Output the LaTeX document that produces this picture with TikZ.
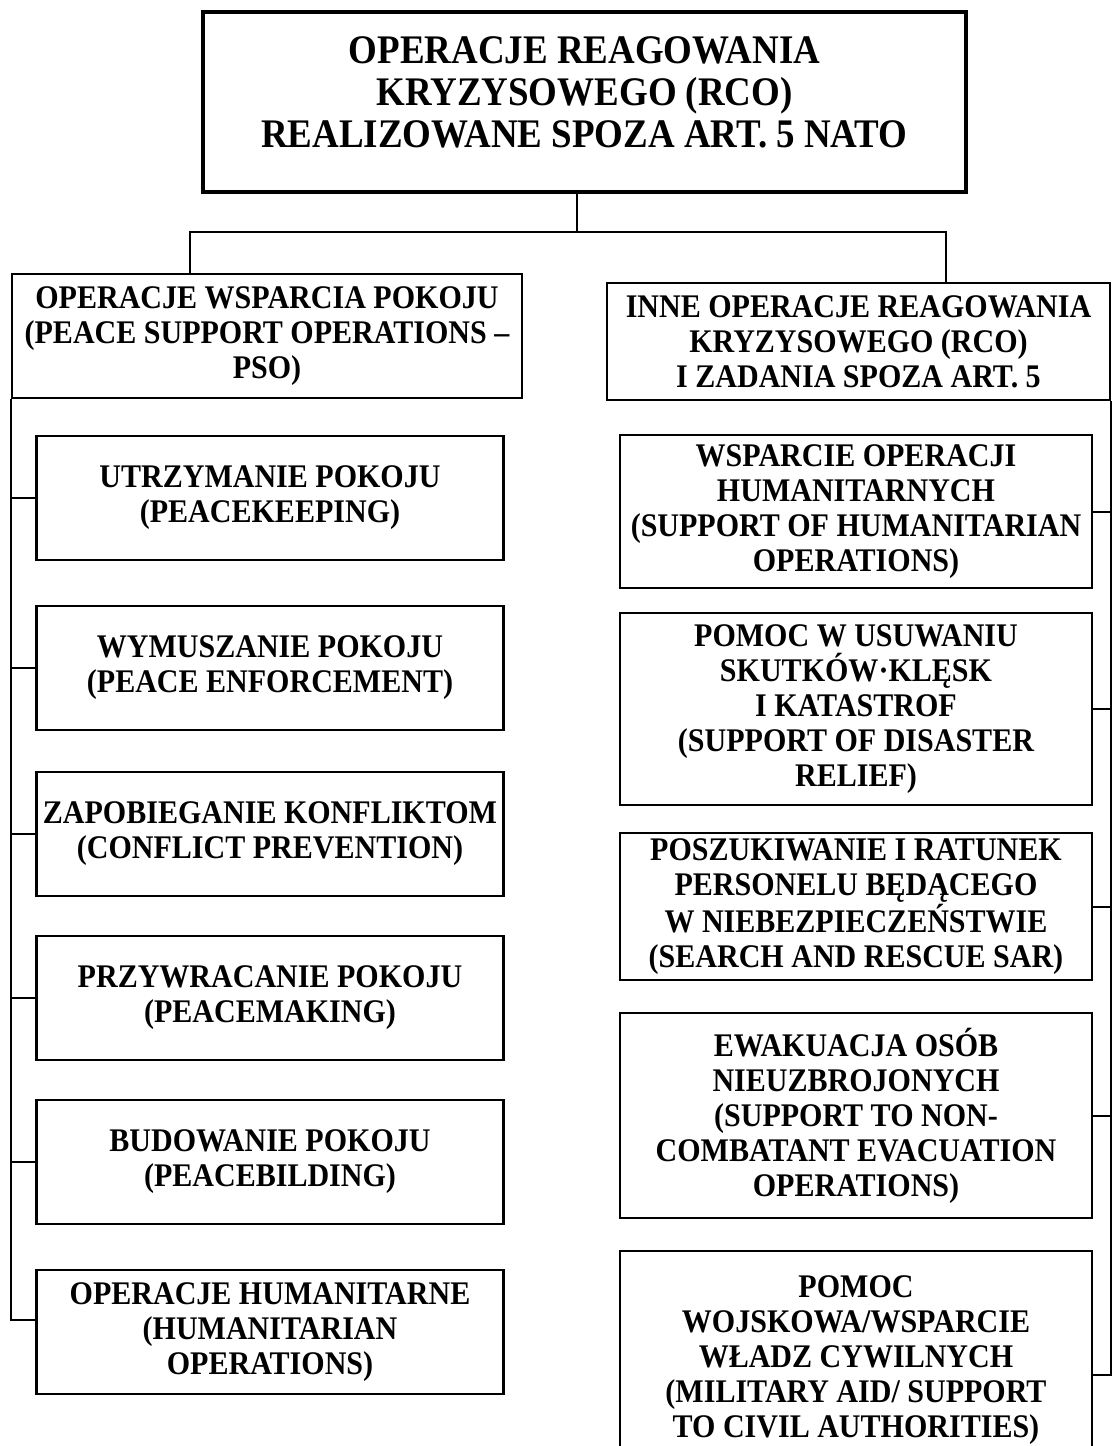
\documentclass[tikz,border=0pt]{standalone}
\usepackage{fontspec}
\setmainfont{Liberation Serif}[FakeStretch=0.91]
\tikzset{
  opbox/.style={draw, line width=1.1pt, align=flush center, inner sep=0pt,
    font=\fontsize{16.5}{17.5}\selectfont\bfseries},
  leftbox/.style={opbox, text width=232pt, minimum width=233.5pt, minimum height=62pt},
  rightbox/.style={opbox, text width=232pt, minimum width=236pt},
  link/.style={line width=1pt}
}

\begin{document}
\begin{tikzpicture}[x=0.5pt, y=-0.5pt]
  \useasboundingbox (0,0) rectangle (1112,1446);
  \clip (0,0) rectangle (1112,1446);

  % top
  \node[draw, line width=2.2pt, align=center, minimum width=381.5pt, minimum height=90pt,
    font=\fontsize{20.3}{21}\selectfont\bfseries] (rco) at (584.5,102)
    {OPERACJE REAGOWANIA\\KRYZYSOWEGO (RCO)\\REALIZOWANE SPOZA ART. 5 NATO\rule[-10pt]{0pt}{1pt}};

  % two groups
  \node[opbox, text width=252pt, minimum width=255pt, minimum height=62pt] (pso) at (267,336)
    {OPERACJE WSPARCIA POKOJU\\(PEACE SUPPORT OPERATIONS –\\PSO)};
  \node[opbox, text width=248pt, minimum width=251.5pt, minimum height=58.5pt] (inne) at (858.5,341.5)
    {INNE OPERACJE REAGOWANIA\\KRYZYSOWEGO (RCO)\\I ZADANIA SPOZA ART. 5};

  \coordinate (hub) at (577,232);
  \coordinate (lturn) at (190,232);
  \coordinate (rturn) at (946,232);
  \draw[link] (rco.south -| hub) -- (hub);
  \draw[link] (lturn |- pso.north) -- (lturn) -- (rturn) -- (rturn |- inne.north);

  % peace support operations
  \foreach \n/\y/\txt in {
    pk/498/{UTRZYMANIE POKOJU\\(PEACEKEEPING)},
    pe/668/{WYMUSZANIE POKOJU\\(PEACE ENFORCEMENT)},
    cp/834/{ZAPOBIEGANIE KONFLIKTOM\\(CONFLICT PREVENTION)},
    pm/998/{PRZYWRACANIE POKOJU\\(PEACEMAKING)},
    pb/1162/{BUDOWANIE POKOJU\\(PEACEBILDING)},
    ho/1332/{OPERACJE HUMANITARNE\\(HUMANITARIAN\\OPERATIONS)}}
    \node[leftbox] (\n) at (270,\y) {\txt};

  \coordinate (hostub) at ([yshift=6pt]ho.west);
  \draw[link] (pso.south west) -- (pso.south west |- hostub) -- (hostub);
  \foreach \n in {pk,pe,cp,pm,pb}
    \draw[link] (pso.south west |- \n.west) -- (\n.west);

  % other crisis response operations
  \foreach \n/\y/\h/\txt in {
    hum/511.5/76.5pt/{WSPARCIE OPERACJI\\HUMANITARNYCH\\(SUPPORT OF HUMANITARIAN\\OPERATIONS)},
    dis/709/96pt/{POMOC W USUWANIU\\SKUTKÓW·KLĘSK\\I KATASTROF\\(SUPPORT OF DISASTER\\RELIEF)},
    sar/906.5/73.5pt/{POSZUKIWANIE I RATUNEK\\PERSONELU BĘDĄCEGO\\W NIEBEZPIECZEŃSTWIE\\(SEARCH AND RESCUE SAR)},
    neo/1115.5/102.5pt/{EWAKUACJA OSÓB\\NIEUZBROJONYCH\\(SUPPORT TO NON-\\COMBATANT EVACUATION\\OPERATIONS)},
    mil/1360/109pt/{POMOC\\WOJSKOWA/WSPARCIE\\WŁADZ CYWILNYCH\\(MILITARY AID/ SUPPORT\\TO CIVIL AUTHORITIES)}}
    \node[rightbox, minimum height=\h] (\n) at (856,\y) {\txt};

  \coordinate (milstub) at ([yshift=-7.5pt]mil.east);
  \draw[link] (inne.south east) -- (inne.south east |- milstub) -- (milstub);
  \foreach \n in {hum,dis,sar,neo}
    \draw[link] (inne.south east |- \n.east) -- (\n.east);
\end{tikzpicture}
\end{document}
